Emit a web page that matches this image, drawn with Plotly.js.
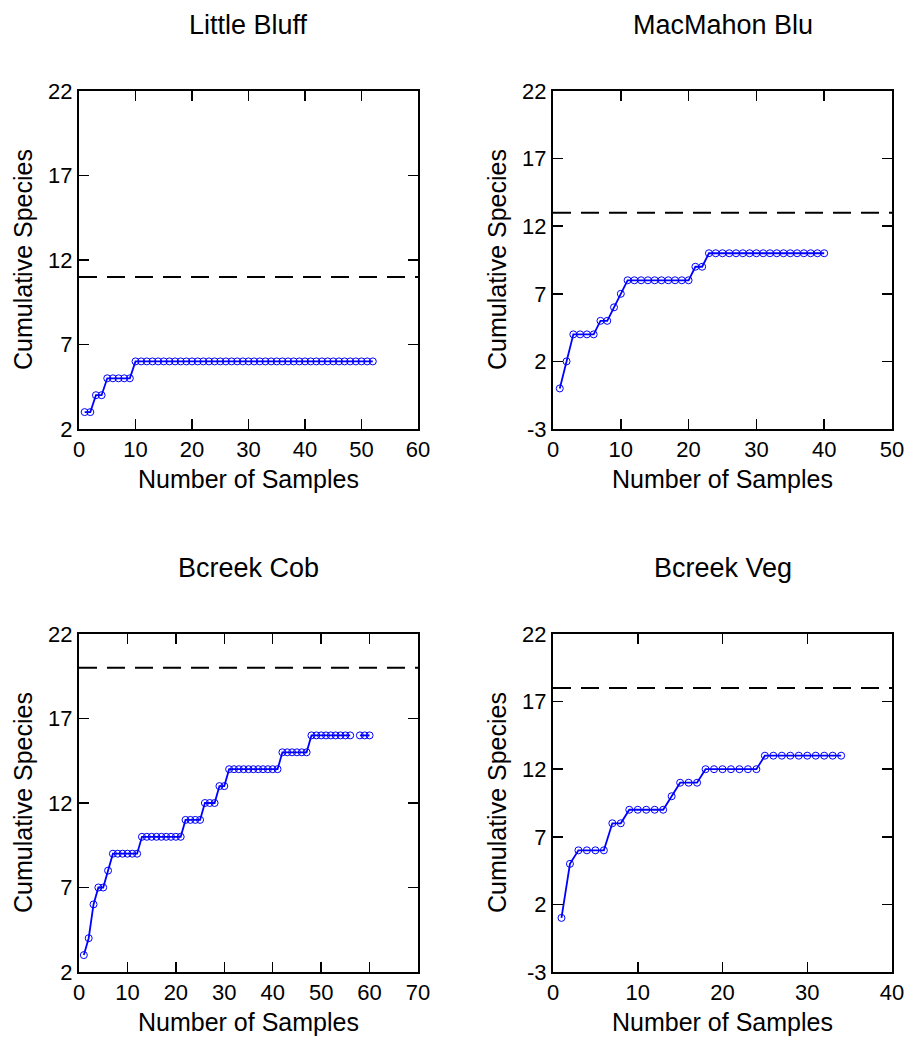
<!DOCTYPE html>
<html>
<head>
<meta charset="utf-8">
<script src="https://cdn.plot.ly/plotly-3.0.1.min.js"></script>
<style>html,body{margin:0;padding:0;background:#fff;}#chart{width:911px;height:1038px;}</style>
</head>
<body>
<div id="chart"></div>
<script>
// ---- data ----
const panelTitles = ["Little Bluff", "MacMahon Blu", "Bcreek Cob", "Bcreek Veg"];
const littleBluff = [3,3,4,4,5,5,5,5,5,
  6,6,6,6,6,6,6,6,6,6,
  6,6,6,6,6,6,6,6,6,6,
  6,6,6,6,6,6,6,6,6,6,
  6,6,6,6,6,6,6,6,6,6,
  6,6,6];
const macMahonBlu = [0,2,4,4,4,4,5,5,6,7,
  8,8,8,8,8,8,8,8,8,8,
  9,9,
  10,10,10,10,10,10,10,10,10,10,10,10,10,10,10,10,10,10];
const bcreekCob = [3,4,6,7,7,8,
  9,9,9,9,9,9,
  10,10,10,10,10,10,10,10,10,
  11,11,11,11,
  12,12,12,
  13,13,
  14,14,14,14,14,14,14,14,14,14,14,
  15,15,15,15,15,15,
  16,16,16,16,16,16,16,16,16,
  null,
  16,16,16];
const bcreekVeg = [1,5,6,6,6,6,8,8,
  9,9,9,9,9,
  10,
  11,11,11,
  12,12,12,12,12,12,12,
  13,13,13,13,13,13,13,13,13,13];
const estimatedTotal = [11, 13, 20, 18];
const xMax = [60, 50, 70, 40];
const yMin = [2, -3, 2, -3];
const yTicks = [[2,7,12,17,22], [-3,2,7,12,17,22], [2,7,12,17,22], [-3,2,7,12,17,22]];
const xTitle = "Number of Samples";
const yTitle = "Cumulative Species";

const series = [littleBluff, macMahonBlu, bcreekCob, bcreekVeg];

// ---- layout geometry (pixels) ----
const W = 911, H = 1038;
const colX = [[79, 418], [553, 892]];
const rowY = [[91, 429], [634, 972]];
const FONT = "Liberation Sans, Arial, sans-serif";

const traces = [];
const layout = {
  width: W, height: H,
  margin: {l: 0, r: 0, t: 0, b: 0},
  paper_bgcolor: "#fff", plot_bgcolor: "#fff",
  showlegend: false,
  font: {family: FONT, color: "#000"},
  shapes: [], annotations: []
};

series.forEach((ys, i) => {
  const col = i % 2, row = Math.floor(i / 2);
  const n = i === 0 ? "" : String(i + 1);
  const xs = ys.map((_, k) => k + 1);
  traces.push({
    x: xs, y: ys, xaxis: "x" + n, yaxis: "y" + n,
    type: "scatter", mode: "lines+markers", connectgaps: false,
    line: {color: "#0000ff", width: 1.8},
    marker: {symbol: "circle-open", size: 7, color: "#0000ff", line: {width: 1, color: "#0000ff"}},
    hoverinfo: "skip"
  });
  const axCommon = {
    showgrid: false, zeroline: false, showline: true, linecolor: "#000", linewidth: 2,
    mirror: "ticks", ticks: "inside", ticklen: 10, tickwidth: 1.5, tickcolor: "#000",
    tickfont: {family: FONT, size: 22, color: "#000"}
  };
  layout["xaxis" + n] = Object.assign({}, axCommon, {
    domain: [colX[col][0] / W, colX[col][1] / W],
    anchor: "y" + n, range: [0, xMax[i]], tickmode: "linear", tick0: 0, dtick: 10
  });
  layout["yaxis" + n] = Object.assign({}, axCommon, {
    domain: [(H - rowY[row][1]) / H, (H - rowY[row][0]) / H],
    anchor: "x" + n, range: [yMin[i], 22], tickmode: "array", tickvals: yTicks[i],
    ticktext: yTicks[i].map(String)
  });
  layout.shapes.push({
    type: "line", xref: "x" + n + " domain", yref: "y" + n,
    x0: 0, x1: 1, y0: estimatedTotal[i], y1: estimatedTotal[i],
    line: {color: "#000", width: 2, dash: "18px,10px"}
  });
  const cx = (colX[col][0] + colX[col][1]) / 2;
  // subplot title
  layout.annotations.push({
    text: panelTitles[i], xref: "paper", yref: "paper",
    x: cx / W, y: 1 - (rowY[row][0] - 66) / H, xanchor: "center", yanchor: "middle",
    showarrow: false, font: {family: FONT, size: 27, color: "#000"}
  });
  // x title
  layout.annotations.push({
    text: xTitle, xref: "paper", yref: "paper",
    x: cx / W, y: 1 - (rowY[row][1] + 50) / H, xanchor: "center", yanchor: "middle",
    showarrow: false, font: {family: FONT, size: 25, color: "#000"}
  });
  // y title
  layout.annotations.push({
    text: yTitle, xref: "paper", yref: "paper", textangle: -90,
    x: (colX[col][0] - 56) / W, y: 1 - ((rowY[row][0] + rowY[row][1]) / 2) / H,
    xanchor: "center", yanchor: "middle",
    showarrow: false, font: {family: FONT, size: 25, color: "#000"}
  });
});

Plotly.newPlot("chart", traces, layout, {staticPlot: true, displayModeBar: false});
</script>
</body>
</html>
